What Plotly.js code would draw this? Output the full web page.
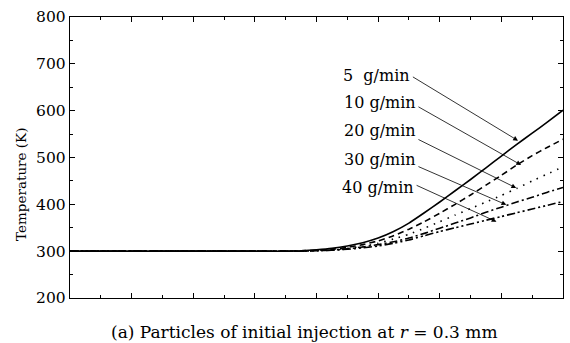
<!DOCTYPE html>
<html>
<head>
<meta charset="utf-8">
<script src="https://cdn.plot.ly/plotly-3.0.1.min.js"></script>
<style>
  html, body { margin: 0; padding: 0; background: #fff; }
  #chart { width: 570px; height: 343px; }
</style>
</head>
<body>
<div id="chart"></div>
<script>
// Axial position (arbitrary units, 0..8) and particle temperature (K)
const xPos = [0, 0.5, 1, 1.5, 2, 2.5, 3, 3.5, 3.75, 4.0, 4.25, 4.5, 4.75, 5.0, 5.25, 5.5, 5.75, 6.0, 6.25, 6.5, 6.75, 7.0, 7.25, 7.5, 7.75, 8.0];

const temp5  = [300, 300, 300, 300, 300, 300, 300, 300, 301, 303, 306, 311, 318, 328, 342, 360, 382, 405, 429, 453, 478, 503, 528, 552, 576, 601];
const temp10 = [300, 300, 300, 300, 300, 300, 300, 300, 301, 302, 304, 308, 314, 322, 333, 347, 363, 381, 400, 420, 441, 462, 484, 504, 522, 539];
const temp20 = [300, 300, 300, 300, 300, 300, 300, 300, 300, 301, 303, 306, 310, 317, 326, 336, 349, 363, 377, 391, 405, 419, 434, 450, 465, 480];
const temp30 = [300, 300, 300, 300, 300, 300, 300, 300, 300, 301, 302, 305, 309, 314, 320, 328, 338, 349, 360, 371, 383, 394, 405, 415, 426, 436];
const temp40 = [300, 300, 300, 300, 300, 300, 300, 300, 300, 301, 302, 304, 307, 311, 317, 324, 333, 342, 350, 358, 366, 374, 382, 390, 398, 406];

const seriesNames = ['5&nbsp;&nbsp;g/min', '10 g/min', '20 g/min', '30 g/min', '40 g/min'];
const seriesData = [temp5, temp10, temp20, temp30, temp40];
const dashes = ['solid', '6px,4px', '1.5px,6px', '8px,3px,2px,3px', '8px,3px,2px,3px,2px,3px'];

// Label centre, arrow tail and arrow tip, in data units
const labelX = [5.54, 5.63, 5.63, 5.63, 5.60];
const labelY = [676, 617, 557, 495, 437];
const tailY  = [674, 610, 540, 482, 442];
const tipX   = [7.27, 7.32, 7.24, 7.08, 6.92];
const tipY   = [536, 484, 435, 399, 363];

const serif = 'DejaVu Serif, serif';

const traces = seriesData.map((ys, i) => ({
  type: 'scatter',
  mode: 'lines',
  x: xPos,
  y: ys,
  name: seriesNames[i],
  line: { color: '#000', width: 1.6, dash: dashes[i], shape: 'spline', smoothing: 0.5 },
  showlegend: false,
  hoverinfo: 'skip'
}));

const annotations = [];
seriesNames.forEach((name, i) => {
  annotations.push({
    x: labelX[i], y: labelY[i], xref: 'x', yref: 'y',
    text: name, showarrow: false,
    xanchor: 'right', yanchor: 'middle', xshift: 1,
    font: { family: serif, size: 16, color: '#000' }
  });
  annotations.push({
    x: tipX[i], y: tipY[i], xref: 'x', yref: 'y',
    ax: labelX[i], ay: tailY[i], axref: 'x', ayref: 'y',
    text: '', showarrow: true,
    arrowhead: 2, arrowsize: 1.2, arrowwidth: 0.8, arrowcolor: '#000',
    standoff: 0, startstandoff: 0
  });
});

// Y axis title
annotations.push({
  xref: 'paper', yref: 'paper', x: -0.1, y: 0.405,
  text: 'Temperature (K)', showarrow: false, textangle: -90,
  xanchor: 'center', yanchor: 'middle',
  font: { family: serif, size: 13.5, color: '#000' }
});

// Caption
annotations.push({
  xref: 'paper', yref: 'paper', x: 0.079, y: -0.12,
  text: '(a) Particles of initial injection at <i>r</i> = 0.3 mm', showarrow: false,
  xanchor: 'left', yanchor: 'middle',
  font: { family: serif, size: 17, color: '#000' }
});

const layout = {
  width: 570, height: 343,
  margin: { l: 70, r: 7, t: 17, b: 45 },
  paper_bgcolor: '#fff', plot_bgcolor: '#fff',
  font: { family: serif, color: '#000' },
  xaxis: {
    range: [0, 8], dtick: 1, tick0: 0,
    showticklabels: false, showgrid: false, zeroline: false,
    showline: true, linecolor: '#000', linewidth: 1.2, mirror: 'ticks',
    ticks: 'inside', ticklen: 5, tickcolor: '#000', tickwidth: 1,
    minor: { dtick: 0.5, ticks: 'inside', ticklen: 3, tickcolor: '#000', showgrid: false }
  },
  yaxis: {
    range: [200, 800], dtick: 100, tick0: 200,
    showgrid: false, zeroline: false,
    showline: true, linecolor: '#000', linewidth: 1.2, mirror: 'ticks',
    ticks: 'inside', ticklen: 5, tickcolor: '#000', tickwidth: 1,
    minor: { dtick: 50, ticks: 'inside', ticklen: 3, tickcolor: '#000', showgrid: false },
    tickfont: { family: serif, size: 15.5, color: '#000' }
  },
  annotations: annotations
};

Plotly.newPlot('chart', traces, layout, { staticPlot: true, displayModeBar: false });
</script>
</body>
</html>
